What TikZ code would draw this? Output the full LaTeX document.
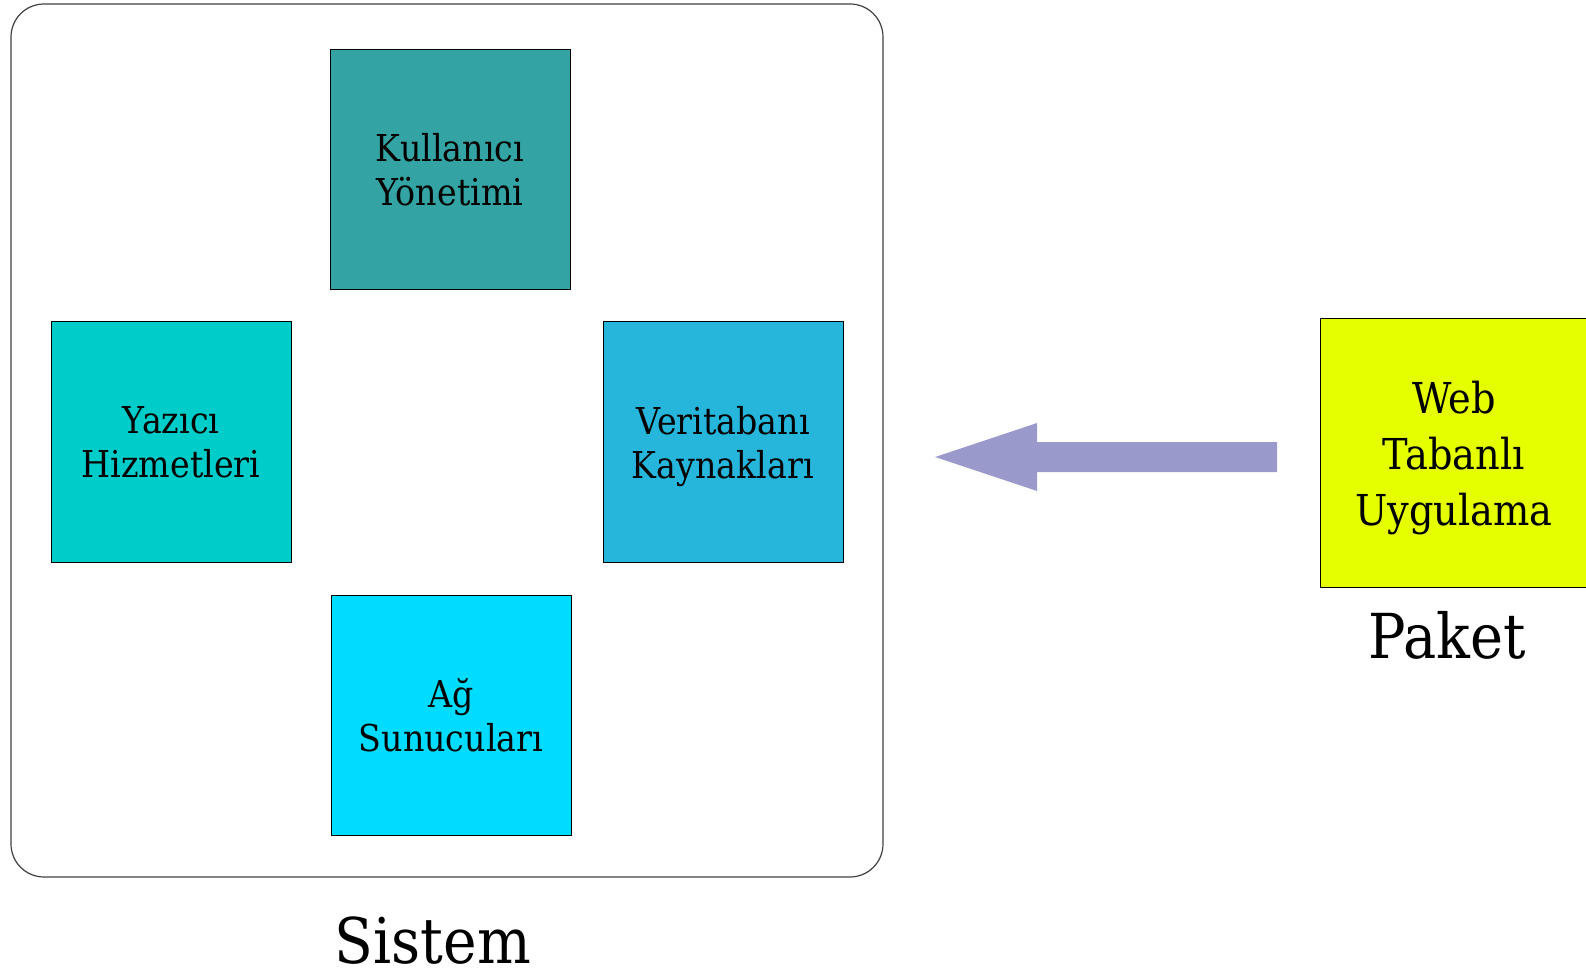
\documentclass[tikz,border=0pt]{standalone}
\usepackage{fontspec}
\setmainfont{DejaVu Serif}[FakeStretch=0.9]
\usepackage{tikz}
\usetikzlibrary{positioning}
\usepackage{xcolor}
\definecolor{kullanici}{HTML}{33A3A3}
\definecolor{yazici}{HTML}{00CCC9}
\definecolor{veritabani}{HTML}{26B6DC}
\definecolor{ag}{HTML}{00DCFF}
\definecolor{paket}{HTML}{E5FF00}
\definecolor{okrenk}{HTML}{9999CC}

\begin{document}
\begin{tikzpicture} [x=0.5pt, y=-0.5pt,
	kutu/.style={draw=black, line width=0.5pt, minimum width=120pt, minimum height=120pt, inner sep=0pt, align=center, font=\fontsize{18.5}{22}\selectfont},
	etiket/.style={anchor=base, inner sep=0pt}]
										\useasboundingbox (0, 0) rectangle (1586, 973);
										\draw [black!75, line width=0.6pt, rounded corners=16.5pt] (11, 4) rectangle (883, 877);
										\node [kutu, fill=kullanici] (kullanici) at (450, 170) {Kullanıcı\\Yönetimi};
										\node [kutu, fill=yazici] (yazici) at (171, 442) {Yazıcı\\Hizmetleri};
										\node [kutu, fill=veritabani] (veritabani) at (723, 442) {Veritabanı\\\smash{Kaynakları}};
										\node [kutu, fill=ag] (ag) at (451, 715) {Ağ\\Sunucuları};
										\node [etiket, font=\fontsize{31.5}{36}\selectfont] (sistem) at (433, 963) {Sistem};
										\node [kutu, fill=paket, minimum width=134pt, minimum height=134pt, font=\fontsize{21.3}{28}\selectfont] (web) at (1454, 453) {Web\\Tabanlı\\\smash{Uygulama}};
										\node [etiket, font=\fontsize{31}{36}\selectfont] (paket) at (1447, 658) {Paket};
										\coordinate (ucu) at (935, 457);
										\coordinate (kuyruk) at (1277, 457);
										\fill [okrenk] (ucu) -- ++(102, -34) -- ++(0, 19) -- ([yshift=15pt/2]kuyruk) -- ([yshift=-15pt/2]kuyruk) -- ++(-240, 0) -- ++(0, 19) -- cycle;
									\end{tikzpicture}
\end{document}
